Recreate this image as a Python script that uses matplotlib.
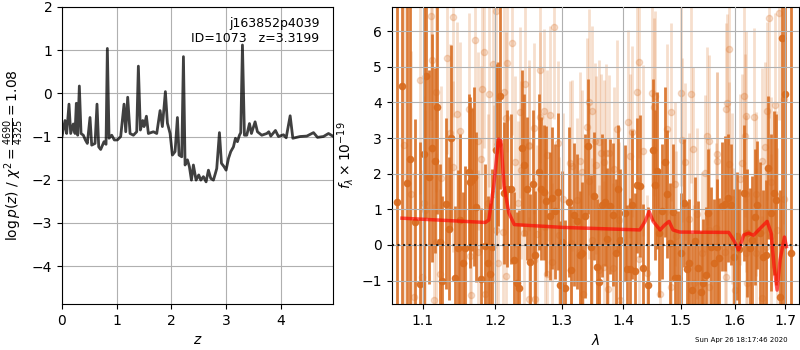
import numpy as np
import matplotlib
matplotlib.use("Agg")
import matplotlib.pyplot as plt
from matplotlib.ticker import NullLocator, FixedLocator, FixedFormatter

# p(z) curve
zgrid = [0.000, 0.055, 0.085, 0.128, 0.159, 0.207, 0.238, 0.262, 0.287, 0.317,
         0.348, 0.390, 0.427, 0.463, 0.512, 0.543, 0.604, 0.640, 0.671, 0.707,
         0.768, 0.805, 0.829, 0.860, 0.909, 0.957, 1.012, 1.073, 1.134, 1.165,
         1.201, 1.244, 1.305, 1.366, 1.396, 1.433, 1.476, 1.500, 1.543, 1.579,
         1.671, 1.732, 1.793, 1.835, 1.890, 1.927, 1.976, 2.018, 2.067, 2.110,
         2.140, 2.189, 2.220, 2.250, 2.293, 2.329, 2.366, 2.402, 2.451, 2.500,
         2.537, 2.585, 2.634, 2.677, 2.720, 2.768, 2.805, 2.829, 2.878, 2.915,
         2.963, 3.000, 3.043, 3.085, 3.134, 3.171, 3.207, 3.244, 3.268, 3.299,
         3.335, 3.378, 3.427, 3.463, 3.530, 3.573, 3.652, 3.744, 3.780, 3.817,
         3.902, 3.957, 4.049, 4.098, 4.171, 4.220, 4.354, 4.476, 4.598, 4.671,
         4.780, 4.872, 4.963]
logpz = [-1.00, -0.63, -0.93, -0.25, -0.93, -0.71, -0.93, -0.23, -0.97, 0.17,
         -0.93, -0.97, -1.08, -1.16, -0.56, -1.20, -1.16, -0.25, -1.24, -1.30,
         -1.12, -1.18, 1.04, -1.04, -0.97, -1.08, -1.08, -1.00, -0.25, -0.89,
         -0.09, -0.93, -0.97, -0.89, 0.63, -0.85, -0.63, -0.77, -0.53, -0.93,
         -0.89, -0.93, -0.40, -0.77, 0.04, -0.69, -0.93, -1.43, -1.35, -0.56,
         -1.43, -1.47, 0.85, -1.66, -1.54, -1.70, -2.01, -1.66, -2.01, -1.89,
         -2.01, -1.93, -2.05, -1.78, -1.97, -2.01, -1.85, -1.74, -0.91, -1.62,
         -1.70, -1.78, -1.51, -1.35, -1.24, -1.04, -1.12, -0.97, -0.91, 1.12,
         -0.97, -0.97, -0.70, -0.93, -0.66, -0.89, -0.97, -0.93, -0.89, -0.99,
         -0.86, -1.00, -0.96, -1.03, -0.52, -1.04, -1.00, -0.99, -0.91, -1.02,
         -1.00, -0.93, -1.00]

# spectrum, beam drawn dark
wave_a = [1.0670, 1.0733, 1.0798, 1.0832, 1.0905, 1.0970, 1.1014, 1.1046, 1.1088, 1.1130,
          1.1167, 1.1190, 1.1236, 1.1259, 1.1319, 1.1347, 1.1384, 1.1431, 1.1477, 1.1500,
          1.1546, 1.1579, 1.1625, 1.1648, 1.1676, 1.1704, 1.1732, 1.1801, 1.1861, 1.1894,
          1.1921, 1.1954, 1.2010, 1.2044, 1.2068, 1.2131, 1.2179, 1.2228, 1.2276, 1.2315,
          1.2349, 1.2394, 1.2430, 1.2470, 1.2521, 1.2556, 1.2596, 1.2647, 1.2682, 1.2722,
          1.2763, 1.2813, 1.2849, 1.2889, 1.2935, 1.2975, 1.3011, 1.3059, 1.3108, 1.3151,
          1.3189, 1.3243, 1.3287, 1.3325, 1.3362, 1.3417, 1.3460, 1.3514, 1.3556, 1.3600,
          1.3649, 1.3687, 1.3730, 1.3773, 1.3827, 1.3870, 1.3908, 1.3946, 1.4034, 1.4069,
          1.4115, 1.4143, 1.4195, 1.4229, 1.4275, 1.4332, 1.4424, 1.4516, 1.4545, 1.4585,
          1.4614, 1.4663, 1.4723, 1.4753, 1.4813, 1.4856, 1.4904, 1.4946, 1.5012, 1.5056,
          1.5117, 1.5148, 1.5210, 1.5259, 1.5315, 1.5364, 1.5407, 1.5457, 1.5500, 1.5549,
          1.5611, 1.5660, 1.5703, 1.5765, 1.5814, 1.5877, 1.5938, 1.5994, 1.6047, 1.6093,
          1.6180, 1.6233, 1.6293, 1.6347, 1.6400, 1.6446, 1.6500, 1.6560, 1.6613, 1.6666,
          1.6713, 1.6780, 1.6827, 1.6893, 1.6933, 1.7000, 1.7114]
flux_a = [1.20, 4.46, 1.73, 2.42, 0.64, -1.10, 2.55, 4.75, 1.90, 2.72,
          2.36, 3.87, 0.08, -1.02, 1.15, 0.46, 3.01, -0.92, -0.09, 0.71,
          -0.52, -0.09, 2.05, 1.76, 1.83, 1.92, 1.07, -0.97, -0.02, -0.52,
          -0.83, -0.07, 2.67, 2.83, 4.17, 1.46, 1.58, 1.57, -0.42, -1.08,
          -1.21, 2.72, 2.25, 1.58, -0.47, 1.70, -0.28, 2.05, 1.58, 1.48,
          1.23, 0.82, 1.32, 0.94, 1.49, -1.13, 0.08, -1.20, 1.21, -0.71,
          0.85, 0.66, -0.28, -0.22, 0.82, 2.77, -0.05, 1.37, -0.61, -1.04,
          1.11, 1.21, 0.16, 1.08, 0.85, -0.24, 1.58, 0.14, 0.90, -0.68,
          -0.69, 1.13, -0.73, 1.67, 1.65, -0.66, -1.13, 2.67, 1.68, 2.08,
          0.33, 0.94, 2.33, 1.44, 0.05, 0.93, -0.92, -0.94, -0.24, 1.18,
          -0.69, -0.52, -1.27, 0.12, -0.66, -1.32, -1.08, -0.85, 0.90, -0.07,
          -0.50, -0.05, -0.38, 1.08, 1.16, 1.32, 1.13, -0.33, 0.25, -0.12,
          1.46, 0.33, -0.09, 0.14, 0.78, 1.13, 0.33, -0.35, -0.28, 2.17,
          0.90, 1.46, 1.27, -1.46, 5.80, 4.25, -0.24]
err_a = [8.0, 8.0, 7.0, 6.0, 2.9, 4.0, 4.5, 4.0, 3.0, 3.2,
         2.6, 3.0, 2.2, 2.4, 2.4, 2.0, 2.6, 2.0, 2.2, 2.4,
         2.0, 2.3, 2.2, 2.4, 2.0, 2.5, 2.1, 2.0, 2.3, 1.9,
         2.0, 2.2, 2.4, 2.3, 2.6, 2.0, 2.2, 2.1, 1.9, 2.0,
         2.2, 2.2, 2.0, 2.0, 1.9, 2.1, 1.8, 2.2, 2.0, 1.9,
         2.1, 1.8, 2.0, 1.9, 2.2, 1.8, 2.0, 1.9, 2.1, 1.8,
         2.0, 1.9, 1.8, 2.0, 2.3, 1.9, 2.0, 1.8, 1.9, 2.1,
         2.0, 1.8, 2.0, 1.9, 2.0, 2.1, 1.8, 2.0, 1.9, 1.8,
         2.0, 2.1, 2.2, 1.9, 2.0, 1.8, 2.2, 2.0, 2.1, 2.2,
         1.8, 1.9, 2.1, 1.8, 1.7, 1.9, 1.8, 1.9, 1.7, 1.8,
         1.9, 1.8, 1.6, 1.8, 1.9, 1.7, 1.8, 1.9, 1.8, 1.7,
         1.8, 1.9, 1.7, 1.8, 1.9, 1.8, 1.7, 1.9, 1.8, 1.7,
         1.9, 1.8, 1.7, 1.8, 1.9, 1.8, 2.0, 1.9, 2.1, 2.0,
         2.2, 2.3, 2.4, 3.0, 9.0, 9.0, 10.0]

# second beam, drawn faint
wave_b = [1.0754, 1.0841, 1.0892, 1.0961, 1.0991, 1.1014, 1.1032, 1.1116, 1.1120, 1.1153,
          1.1176, 1.1181, 1.1236, 1.1245, 1.1324, 1.1366, 1.1407, 1.1412, 1.1458, 1.1505,
          1.1625, 1.1644, 1.1662, 1.1709, 1.1755, 1.1757, 1.1792, 1.1810, 1.1847, 1.1857,
          1.1894, 1.1917, 1.1968, 1.1986, 1.2015, 1.2016, 1.2044, 1.2121, 1.2131, 1.2160,
          1.2162, 1.2170, 1.2247, 1.2286, 1.2334, 1.2373, 1.2494, 1.2500,
          1.2369, 1.2420, 1.2445, 1.2495, 1.2571, 1.2573, 1.2596, 1.2622, 1.2662, 1.2672,
          1.2722, 1.2748, 1.2773, 1.2775, 1.2823, 1.2849, 1.2874, 1.2950, 1.2965, 1.3027,
          1.3124, 1.3146, 1.3162, 1.3243, 1.3287, 1.3297, 1.3325, 1.3341, 1.3406, 1.3433,
          1.3435, 1.3487, 1.3489, 1.3525, 1.3541, 1.3596, 1.3598, 1.3622, 1.3676, 1.3678,
          1.3703, 1.3741, 1.3757, 1.3827, 1.3838, 1.3892, 1.3919, 1.3946, 1.4086, 1.4115,
          1.4143, 1.4229, 1.4258, 1.4260, 1.4332, 1.4401, 1.4487, 1.4528, 1.4545,
          1.4632, 1.4753, 1.4831, 1.4833, 1.4904, 1.4916, 1.5000, 1.5025, 1.5074, 1.5148,
          1.5179, 1.5222, 1.5240, 1.5302, 1.5395, 1.5444, 1.5488, 1.5519, 1.5521, 1.5523,
          1.5654, 1.5660, 1.5673, 1.5827, 1.5829, 1.5839, 1.5858, 1.5889, 1.5891, 1.5951,
          1.5963, 1.6013, 1.6100, 1.6147, 1.6180, 1.6200, 1.6213, 1.6215, 1.6217, 1.6246,
          1.6380, 1.6413, 1.6415, 1.6533, 1.6547, 1.6600, 1.6613, 1.6633, 1.6680, 1.6713,
          1.6715, 1.6800, 1.6827, 1.6847, 1.6880, 1.6980, 1.6982]
flux_b = [2.81, 1.44, -1.46, 4.63, -0.90, 1.18, 0.99, 6.42, 5.19, -1.56,
          0.08, 4.29, -0.82, 1.87, 5.25, 3.15, 6.39, 2.20, 3.67, 3.20,
          3.82, -0.31, -1.42, 5.74, 2.91, -0.20, 2.41, 4.39, 5.42, -1.39,
          1.18, 4.23, 5.07, 1.44, 6.58, 0.41, -0.52, 0.35, 4.29, 3.57,
          -0.86, 5.12, 5.68, 2.34, 1.19, 2.10, 2.78, -1.51,
          3.73, 0.33, 4.53, 2.81, 3.28, -0.42, -1.53, 0.31, 3.58, 4.91,
          3.77, 0.50, 2.52, -0.82, 3.65, -0.47, 6.13, 2.86, 0.28, 1.29,
          2.31, 0.05, 2.22, 1.27, 2.36, -0.19, 2.05, -1.39, 3.30, 4.01,
          1.79, 3.75, 0.14, 2.91, 2.24, 2.90, -0.71, 2.59, 2.33, -0.61,
          2.59, -1.23, 2.58, -0.66, 2.12, 3.25, 0.69, -1.56, 3.44, 2.50,
          3.18, 4.29, 5.14, -0.40, 2.64, -0.80, 4.26, 3.87, 4.17,
          -1.37, 3.25, 3.73, -1.18, 1.70, 0.24, 4.26, 2.95, 2.34, 0.74,
          4.25, 2.69, -1.08, 0.88, -0.24, 2.01, 3.07, 2.92, 0.42, -1.18,
          0.47, 2.55, 2.36, -0.21, -0.90, 3.82, 3.98, 5.50, 2.26, 1.29,
          -0.05, -1.27, 1.84, 2.29, 4.18, 3.07, 3.61, 1.44, -0.24, -1.07,
          3.58, 1.44, -0.24, 2.36, -1.48, 2.74, -0.05, 3.75, 6.37, 1.76,
          0.24, 3.92, 1.37, 0.42, 6.51, 4.10, 1.30]
err_b = [5.0, 4.0, 3.5, 3.2, 3.0, 3.0, 2.8, 2.9, 2.6, 2.7,
         2.5, 2.8, 2.4, 2.6, 2.7, 2.5, 2.8, 2.4, 2.6, 2.5,
         2.7, 2.3, 2.4, 2.6, 2.5, 2.3, 2.6, 2.4, 2.7, 2.3,
         2.5, 2.6, 2.4, 2.5, 2.7, 2.3, 2.4, 2.5, 2.6, 2.4,
         2.3, 2.5, 2.6, 2.4, 2.3, 2.5, 2.4, 2.3,
         2.4, 2.3, 2.5, 2.2, 2.4, 2.3, 2.2, 2.5, 2.4, 2.6,
         2.3, 2.2, 2.4, 2.3, 2.5, 2.2, 2.6, 2.3, 2.2, 2.4,
         2.3, 2.2, 2.4, 2.3, 2.5, 2.2, 2.3, 2.4, 2.5, 2.6,
         2.2, 2.4, 2.3, 2.2, 2.5, 2.3, 2.4, 2.2, 2.3, 2.4,
         2.5, 2.3, 2.2, 2.4, 2.3, 2.5, 2.2, 2.4, 2.6, 2.3,
         2.4, 2.5, 2.7, 2.3, 2.4, 2.2, 2.6, 2.5, 2.4,
         2.3, 2.4, 2.5, 2.2, 2.3, 2.4, 2.6, 2.3, 2.2, 2.4,
         2.5, 2.3, 2.2, 2.4, 2.3, 2.2, 2.5, 2.4, 2.3, 2.2,
         2.4, 2.3, 2.5, 2.2, 2.3, 2.4, 2.5, 2.7, 2.3, 2.4,
         2.2, 2.3, 2.4, 2.5, 2.6, 2.3, 2.4, 2.2, 2.3, 2.4,
         2.5, 2.3, 2.4, 2.6, 2.3, 2.4, 2.2, 2.5, 2.8, 2.4,
         2.3, 2.6, 2.4, 2.3, 3.0, 3.5, 3.0]

# best-fit model
wave_m = [1.073, 1.186, 1.191, 1.198, 1.205, 1.2085, 1.213, 1.220, 1.228, 1.303,
          1.428, 1.437, 1.444, 1.451, 1.463, 1.472, 1.479, 1.486, 1.498, 1.589,
          1.598, 1.608, 1.618, 1.627, 1.637, 1.647, 1.664, 1.672, 1.678, 1.684,
          1.690, 1.699, 1.703]
flux_m = [0.75, 0.63, 0.70, 1.65, 2.97, 2.92, 1.65, 0.90, 0.57, 0.49,
          0.42, 0.66, 0.94, 0.66, 0.42, 0.57, 0.66, 0.42, 0.36, 0.35,
          0.14, -0.14, 0.28, 0.33, 0.27, 0.42, 0.66, 0.33, -0.61, -1.27,
          -0.42, 0.22, -0.05]

lam_ticks = [1.1, 1.2, 1.3, 1.4, 1.5, 1.6, 1.7]

fig = plt.figure(figsize=(8, 3.5), dpi=100)

# left: redshift probability
ax = fig.add_axes([0.0775, 0.1314, 0.3388, 0.8486])
ax.plot(zgrid, logpz, color='k', alpha=0.75, lw=2)
ax.set_xlim(0, 4.955)
ax.set_ylim(-4.88, 2)
ax.set_xlabel(r'$z$')
ax.set_ylabel(r'$\log p(z)$ / $\chi^2=\frac{4690}{4325}=1.08$')
ax.text(0.95, 0.965, 'j163852p4039\nID=1073   z=3.3199', ha='right', va='top',
        transform=ax.transAxes, fontsize=9)
ax.grid()

# right: spectrum + model
bx = fig.add_axes([0.4896, 0.1314, 0.5095, 0.8486])
orange = '#d86b1e'
bx.errorbar(wave_b, flux_b, yerr=err_b, marker='o', ms=4.5, linestyle='none',
            color=orange, alpha=0.22, elinewidth=2.0, zorder=1)
bx.errorbar(wave_a, flux_a, yerr=err_a, marker='o', ms=4.5, linestyle='none',
            color=orange, alpha=0.88, elinewidth=2.0, zorder=2)
bx.plot(wave_m, flux_m, color='r', alpha=0.65, lw=2.5, zorder=5)
bx.axhline(0, color='k', linestyle=':', lw=1.5, alpha=0.8, zorder=6)

bx.set_xscale('log')
bx.set_xlim(1.0598, 1.7295)
bx.set_ylim(-1.66, 6.68)
bx.xaxis.set_major_locator(FixedLocator(lam_ticks))
bx.xaxis.set_major_formatter(FixedFormatter([str(t) for t in lam_ticks]))
bx.xaxis.set_minor_locator(NullLocator())
bx.set_xlabel(r'$\lambda$')
bx.set_ylabel(r'$f_\lambda\times10^{-19}$')
bx.set_axisbelow(False)
bx.grid(zorder=4)

fig.text(0.985, 0.02, 'Sun Apr 26 18:17:46 2020', ha='right', va='bottom', fontsize=5)

fig.savefig('out.png', dpi=100)
